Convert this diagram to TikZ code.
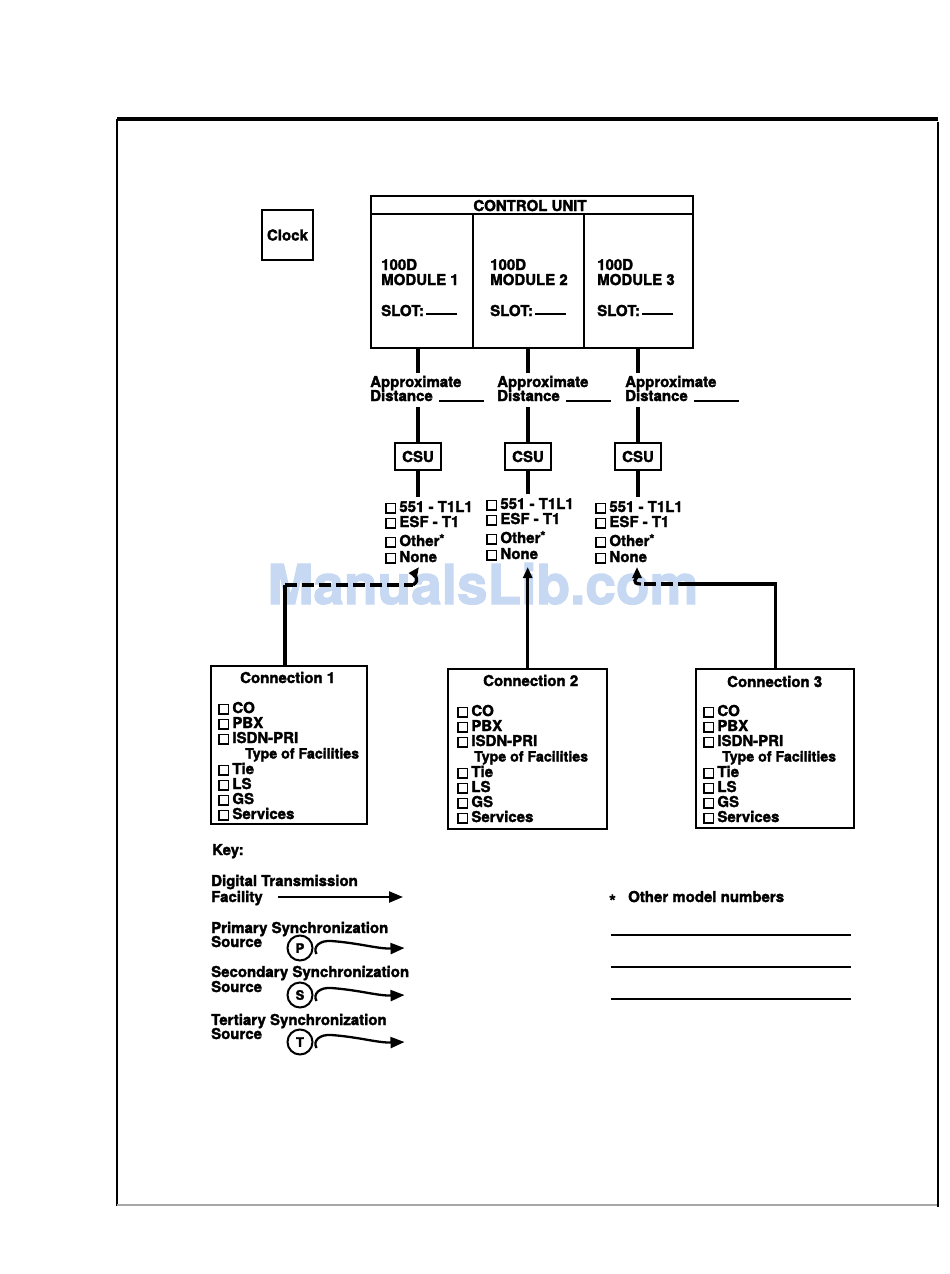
\documentclass[tikz,border=0pt]{standalone}
\usepackage{fontspec}
\setmainfont{TeX Gyre Heros}[BoldFeatures={FakeBold=2}]
\usetikzlibrary{arrows.meta,calc}
\definecolor{wm}{RGB}{198,216,242}
\newcommand\cbx{{\setlength\fboxrule{1.6pt}\setlength\fboxsep{0pt}\fbox{\rule{0pt}{7.6pt}\rule{8pt}{0pt}}}\hspace{3pt}}
\newcommand\ostar{{\fontsize{13}{13}\selectfont\raisebox{2.5pt}{*}}}
\newcommand\syncarrow[1]{%
  \coordinate (#1tip) at ($(#1.east)+(91,0)$);
  \draw[line width=2.3pt, -{Triangle[length=14pt,width=11pt]}]
    ($(#1.east)+(3,6)$) .. controls ($(#1.east)+(-1,-1)$) and ($(#1.east)+(6,-8)$) ..
    ($(#1.east)+(18,-7)$) .. controls ($(#1.east)+(45,-5)$) and ($(#1.east)+(65,1)$) .. (#1tip);}
\begin{document}
\begin{tikzpicture}[x=1pt,y=-1pt,
  txt/.style={font=\fontsize{15}{15}\selectfont\bfseries, inner sep=0pt, anchor=base west},
  boxst/.style={draw, line width=2.4pt, inner sep=0pt, font=\fontsize{15}{15}\selectfont\bfseries},
  conn/.style={line width=3.2pt},
  dashes/.style={dash pattern=on 12pt off 5pt},
  tipa/.style={-{Triangle[length=11pt,width=9pt]}},
  keyarrow/.style={line width=2.3pt, -{Triangle[length=14pt,width=11pt]}},
  rulel/.style={line width=2pt}]
\useasboundingbox (0,0) rectangle (950,1274);

% watermark
\node[font=\fontsize{55}{55}\selectfont\bfseries, text=wm, inner sep=0pt, anchor=base] (wmark) at (483,604) {ManualsLib.com};

% frame
\draw[line width=3.5pt] (117,119) -- (938,119);
\draw[line width=2.4pt] (117,119) -- (117,1206);
\draw[line width=2.4pt] (938,122) -- (938,1207);
\draw[line width=2pt, black!35] (117,1205) -- (937,1205);

% clock
\node[boxst, minimum width=51pt, minimum height=50pt] (clock) at (287.5,235) {Clock};

% control unit
\node[boxst, anchor=north west, minimum width=322pt, minimum height=152pt] (cu) at (370,195) {};
\draw[line width=2.4pt] (cu.north west) ++(0,19) -- ++(322,0);
\node[txt, anchor=base] (cutitle) at (530,211) {CONTROL UNIT};
\draw[line width=2.4pt] (473,214) -- (473,347);
\draw[line width=2.4pt] (584,214) -- (584,347);

\foreach \i/\x in {1/381, 2/490, 3/597} {
  \node[txt] (md\i-a) at (\x,270) {100D};
  \node[txt] (md\i-b) at (\x,285) {MODULE \i};
  \node[txt] (slot\i) at (\x,316) {SLOT:\hspace{2pt}\rule[1pt]{31pt}{1.6pt}};
}

% columns: distance, CSU, checklist
\foreach \i/\x/\cx/\lx/\yo in {1/370/418/385/0, 2/497/528/486/-3, 3/625/638/595/0} {
  \node[txt] (ap\i) at (\x,387) {Approximate};
  \node[txt] (ds\i) at (\x,401) {Distance\hspace{6pt}\rule[-1pt]{45pt}{1.6pt}};
  \node[boxst, minimum width=46pt, minimum height=27pt] (csu\i) at (\cx,456.5) {CSU};
  \node[txt] (ck\i-1) at (\lx,512+\yo) {\cbx 551 - T1L1};
  \node[txt] (ck\i-2) at (\lx,527+\yo) {\cbx ESF - T1};
  \node[txt] (ck\i-3) at (\lx,546+\yo) {\cbx Other\ostar};
  \node[txt] (ck\i-4) at (\lx,562+\yo) {\cbx None};
  \draw[conn] (cu.south -| csu\i) -- ([yshift=3pt]ap\i.north -| csu\i);
  \draw[conn] ([yshift=-5pt]ds\i.south -| csu\i) -- (csu\i.north);
  \draw[conn] (csu\i.south) -- ([yshift=4pt]ck\i-1.north -| csu\i);
}

% connection boxes
\node[boxst, anchor=north west, minimum width=156pt, minimum height=158pt] (conn1) at (210,665) {};
\node[boxst, anchor=north west, minimum width=159pt, minimum height=160pt] (conn2) at (447,668) {};
\node[boxst, anchor=north west, minimum width=158pt, minimum height=159pt] (conn3) at (695,668) {};
\node[txt] (ct1) at (240,683) {Connection 1};
\node[txt] (ct2) at (483,686) {Connection 2};
\node[txt] (ct3) at (727,687) {Connection 3};

\foreach \c/\x/\y/\tx in {1/218/713/245, 2/457/716/474, 3/703/716/722} {
  \node[txt] (c\c-co) at (\x,\y) {\cbx CO};
  \node[txt] (c\c-pbx) at (\x,\y+15) {\cbx PBX};
  \node[txt] (c\c-isdn) at (\x,\y+30) {\cbx ISDN-PRI};
  \node[txt, font=\fontsize{14.2}{15}\selectfont\bfseries] (c\c-type) at (\tx,\y+45.5) {Type of Facilities};
  \node[txt] (c\c-tie) at (\x,\y+61) {\cbx Tie};
  \node[txt] (c\c-ls) at (\x,\y+76) {\cbx LS};
  \node[txt] (c\c-gs) at (\x,\y+91) {\cbx GS};
  \node[txt] (c\c-serv) at (\x,\y+106) {\cbx Services};
}

% connectors from connections
\coordinate (j1) at (285,585);
\coordinate (j1e) at (413,585);
\coordinate (tip1) at (419,567);
\draw[conn] (conn1.north -| j1) -- (j1);
\draw[conn, dashes] (j1) -- (j1e);
\draw[conn, tipa] (j1e) .. controls (421,580) and (414,574) .. (tip1);

\draw[conn, tipa] (conn2.north) -- (conn2.north |- tip1);

\coordinate (j3) at (690,584);
\coordinate (j3e) at (641,584);
\coordinate (tip3) at (637,567);
\draw[conn] (conn3.north) |- (j3);
\draw[conn, dashes] (j3) -- (j3e);
\draw[conn, tipa] (j3e) .. controls (630,584) and (637,577) .. (tip3);

% key
\node[txt] (key) at (212,855) {Key:};
\node[txt] (k1a) at (211,886) {Digital Transmission};
\node[txt] (k1b) at (211,902) {Facility};
\coordinate (dtfs) at (278,897);
\coordinate (dtfe) at (403,897);
\draw[keyarrow] (dtfs) -- (dtfe);

\node[txt] (k2a) at (211,933) {Primary Synchronization};
\node[txt] (k2b) at (211,947) {Source};
\node[txt] (k3a) at (211,977) {Secondary Synchronization};
\node[txt] (k3b) at (211,992) {Source};
\node[txt] (k4a) at (211,1025) {Tertiary Synchronization};
\node[txt] (k4b) at (211,1039) {Source};

\tikzset{sync/.style={circle, draw, line width=2pt, minimum size=25pt, inner sep=0pt, font=\fontsize{13}{13}\selectfont\bfseries}}
\node[sync] (cP) at (300,948) {P};
\node[sync] (cS) at (300,995) {S};
\node[sync] (cT) at (300,1042) {T};
\syncarrow{cP}
\syncarrow{cS}
\syncarrow{cT}

% other model numbers
\node[txt] (star) at (609,907) {\fontsize{17}{17}\selectfont *};
\node[txt] (omn) at (628,902) {Other model numbers};
\draw[rulel] (611,935) -- (851,935);
\draw[rulel] (611,967) -- (851,967);
\draw[rulel] (611,999) -- (851,999);
\end{tikzpicture}
\end{document}
